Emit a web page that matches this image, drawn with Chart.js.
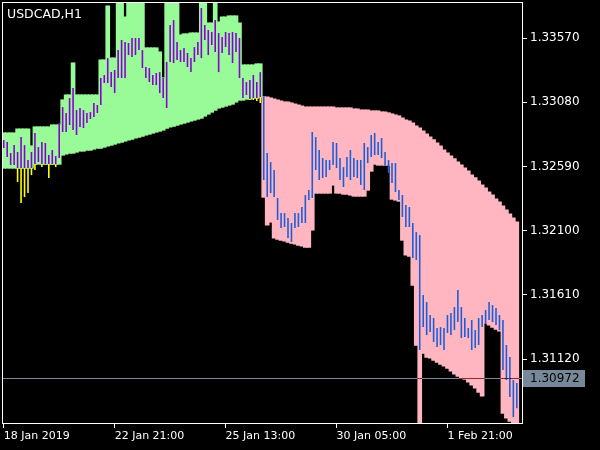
<!DOCTYPE html>
<html><head><meta charset="utf-8">
<script src="https://cdn.jsdelivr.net/npm/chart.js@4.4.1/dist/chart.umd.min.js"></script>
<style>html,body{margin:0;padding:0;background:#000;}canvas{display:block;}</style>
</head><body>
<canvas id="c" width="600" height="450"></canvas>
<script>
const symbolTitle = 'USDCAD,H1';
const timeTickIndex = [0, 32, 64, 96, 128];
const timeTickLabels = ['18 Jan 2019', '22 Jan 21:00', '25 Jan 13:00', '30 Jan 05:00', '1 Feb 21:00'];
const priceTicks = [1.31120, 1.31610, 1.32100, 1.32590, 1.33080, 1.33570];
const lastPrice = 1.30972;
const pinkStart = 75;

// green channel (bars 0..74): upper and lower edge
const greenTop = [
1.32845,1.32845,1.32845,1.32845,1.32875,1.32875,1.32875,1.32875,1.32746,1.32891,
1.32891,1.32891,1.32891,1.32891,1.32906,1.32906,1.32906,1.33097,1.33135,1.33135,
1.33379,1.33135,1.33135,1.33135,1.33135,1.33135,1.33135,1.33135,1.33402,1.33402,
1.33814,1.33417,1.33417,1.33900,1.33900,1.33730,1.33900,1.33900,1.33900,1.33900,
1.33900,1.33494,1.33494,1.33494,1.33494,1.33463,1.33265,1.33900,1.33900,1.33900,
1.33900,1.33593,1.33601,1.33601,1.33608,1.33608,1.33608,1.33900,1.33900,1.33684,
1.33684,1.33900,1.33692,1.33730,1.33730,1.33738,1.33738,1.33738,1.33684,1.33364,
1.33364,1.33364,1.33364,1.33372,1.33372];
const greenBot = [
1.32578,1.32578,1.32578,1.32578,1.32578,1.32578,1.32578,1.32578,1.32578,1.32608,
1.32608,1.32608,1.32608,1.32608,1.32608,1.32608,1.32608,1.32677,1.32685,1.32692,
1.32692,1.32700,1.32708,1.32708,1.32715,1.32715,1.32723,1.32730,1.32730,1.32738,
1.32746,1.32753,1.32761,1.32769,1.32776,1.32784,1.32792,1.32799,1.32807,1.32814,
1.32822,1.32830,1.32837,1.32845,1.32853,1.32860,1.32868,1.32883,1.32891,1.32898,
1.32906,1.32914,1.32921,1.32929,1.32937,1.32944,1.32952,1.32959,1.32975,1.32990,
1.33005,1.33020,1.33036,1.33043,1.33051,1.33059,1.33066,1.33082,1.33097,1.33097,
1.33104,1.33104,1.33112,1.33112,1.33120];
// price bars in green zone
const greenHigh = [
1.32792,1.32776,1.32692,1.32753,1.32700,1.32814,1.32753,1.32639,1.32700,1.32845,
1.32738,1.32776,1.32769,1.32677,1.32715,1.32669,1.32921,1.33043,1.32998,1.33112,
1.33188,1.33020,1.33036,1.33020,1.32998,1.33005,1.33074,1.33059,1.33265,1.33288,
1.33417,1.33310,1.33326,1.33478,1.33555,1.33539,1.33532,1.33570,1.33570,1.33570,
1.33478,1.33349,1.33341,1.33288,1.33303,1.33310,1.33265,1.33387,1.33669,1.33707,
1.33539,1.33478,1.33494,1.33456,1.33417,1.33501,1.33539,1.33799,1.33669,1.33631,
1.33616,1.33707,1.33608,1.33578,1.33616,1.33608,1.33616,1.33608,1.33570,1.33265,
1.33234,1.33249,1.33288,1.33234,1.33310];
const greenLow = [
1.32730,1.32662,1.32601,1.32601,1.32471,1.32311,1.32356,1.32387,1.32524,1.32563,
1.32624,1.32585,1.32601,1.32502,1.32601,1.32585,1.32654,1.32853,1.32853,1.32906,
1.32868,1.32830,1.32891,1.32883,1.32921,1.32952,1.32967,1.32998,1.33059,1.33227,
1.33227,1.33196,1.33150,1.33265,1.33265,1.33265,1.33440,1.33425,1.33440,1.33478,
1.33341,1.33265,1.33234,1.33211,1.33211,1.33150,1.33112,1.33036,1.33387,1.33379,
1.33402,1.33387,1.33387,1.33349,1.33310,1.33387,1.33440,1.33417,1.33555,1.33440,
1.33517,1.33463,1.33310,1.33456,1.33501,1.33440,1.33379,1.33463,1.33265,1.33112,
1.33135,1.33097,1.33097,1.33089,1.33074];

// pink channel (bars 75..148)
const pinkTop = [
1.33120,1.33120,1.33112,1.33104,1.33097,1.33089,1.33082,1.33082,1.33074,1.33066,
1.33059,1.33051,1.33043,1.33043,1.33043,1.33043,1.33043,1.33043,1.33043,1.33043,
1.33043,1.33036,1.33036,1.33036,1.33036,1.33036,1.33028,1.33028,1.33020,1.33020,
1.33020,1.33013,1.33013,1.33013,1.33005,1.33005,1.32998,1.32990,1.32982,1.32975,
1.32959,1.32944,1.32937,1.32921,1.32898,1.32883,1.32860,1.32837,1.32814,1.32792,
1.32769,1.32746,1.32715,1.32692,1.32669,1.32647,1.32624,1.32601,1.32578,1.32555,
1.32524,1.32502,1.32479,1.32448,1.32425,1.32395,1.32372,1.32341,1.32318,1.32288,
1.32257,1.32227,1.32196,1.32166];
const pinkBot = [
1.32356,1.32143,1.32166,1.32044,1.32036,1.32028,1.32021,1.32013,1.32005,1.31998,
1.31990,1.31983,1.31975,1.31975,1.32105,1.32387,1.32387,1.32387,1.32387,1.32387,
1.32448,1.32387,1.32387,1.32379,1.32379,1.32372,1.32364,1.32364,1.32364,1.32364,
1.32410,1.32555,1.32608,1.32601,1.32601,1.32601,1.32601,1.32341,1.32334,1.32326,
1.32028,1.31914,1.31906,1.31685,1.31227,1.30560,1.31166,1.31135,1.31128,1.31112,
1.31097,1.31082,1.31067,1.31051,1.31029,1.31006,1.30990,1.30975,1.30967,1.30945,
1.30922,1.30899,1.30868,1.30838,1.31395,1.31380,1.31364,1.31349,1.31334,1.30708,
1.30670,1.30647,1.30632,1.30624];
const pinkHigh = [
1.33120,1.32692,1.32624,1.32563,1.32349,1.32234,1.32234,1.32196,1.32158,1.32234,
1.32234,1.32280,1.32372,1.32410,1.32853,1.32814,1.32715,1.32654,1.32639,1.32639,
1.32776,1.32769,1.32654,1.32585,1.32662,1.32715,1.32654,1.32639,1.32639,1.32769,
1.32738,1.32830,1.32845,1.32776,1.32807,1.32700,1.32639,1.32616,1.32616,1.32410,
1.32372,1.32295,1.32280,1.32158,1.32089,1.32066,1.31609,1.31555,1.31456,1.31433,
1.31357,1.31364,1.31357,1.31456,1.31471,1.31517,1.31647,1.31517,1.31433,1.31357,
1.31418,1.31341,1.31433,1.31456,1.31494,1.31555,1.31532,1.31509,1.31456,1.31418,
1.31227,1.31135,1.30960,1.30937];
const pinkLow = [
1.32486,1.32356,1.32387,1.32356,1.32181,1.32120,1.32128,1.32044,1.32013,1.32120,
1.32128,1.32158,1.32158,1.32334,1.32349,1.32563,1.32486,1.32502,1.32509,1.32563,
1.32601,1.32578,1.32486,1.32433,1.32509,1.32486,1.32509,1.32502,1.32448,1.32410,
1.32616,1.32662,1.32677,1.32677,1.32654,1.32601,1.32540,1.32463,1.32395,1.32334,
1.32204,1.32128,1.32128,1.31891,1.31876,1.31189,1.31364,1.31303,1.31326,1.31250,
1.31212,1.31227,1.31189,1.31319,1.31303,1.31341,1.31402,1.31280,1.31288,1.31280,
1.31189,1.31204,1.31227,1.31364,1.31395,1.31418,1.31402,1.31380,1.31341,1.31036,
1.30960,1.30830,1.30677,1.30745];

// build library data from the arrays
const greenBand = greenTop.map((t, i) => ({x: i, y: [greenBot[i], t]}));
const pinkBand = pinkTop.map((t, k) => ({x: pinkStart + k, y: [pinkBot[k], t]}));
const purpleBars = [], yellowBars = [];
greenHigh.forEach((h, i) => {
  const l = greenLow[i], b = greenBot[i];
  if (h > b) purpleBars.push({x: i, y: [Math.max(l, b), h]});
  if (l < b) yellowBars.push({x: i, y: [l, Math.min(h, b)]});
});
const blueBars = pinkHigh.map((h, k) => ({x: pinkStart + k, y: [pinkLow[k], h]}));

const FONT = 'DejaVu Sans';
const common = {grouped: false, clip: 0, borderWidth: 0};
const priceBar = Object.assign({barThickness: 1.6, inflateAmount: 0, order: 1}, common);
const bandBar = Object.assign({barPercentage: 1, categoryPercentage: 1, inflateAmount: 0.6, order: 2}, common);

const mtPlugin = {
  id: 'mt',
  afterDatasetsDraw(chart) {
    const {ctx, chartArea: a, scales: {y}} = chart;
    ctx.save();
    const py = Math.round(y.getPixelForValue(lastPrice)) + 0.5;
    ctx.globalCompositeOperation = 'difference';
    ctx.strokeStyle = '#778899';
    ctx.lineWidth = 1;
    ctx.beginPath(); ctx.moveTo(a.left, py); ctx.lineTo(a.right, py); ctx.stroke();
    ctx.globalCompositeOperation = 'source-over';
    ctx.strokeStyle = '#ffffff';
    ctx.strokeRect(a.left + 0.5, a.top + 0.5, a.right - a.left, a.bottom - a.top);
    ctx.fillStyle = '#ffffff';
    ctx.font = '12.5px "' + FONT + '"';
    ctx.textBaseline = 'alphabetic';
    ctx.textAlign = 'left';
    ctx.fillText(symbolTitle, 7, 18);
    ctx.restore();
  },
  afterDraw(chart) {
    const {ctx, chartArea: a, scales: {y}} = chart;
    const py = Math.round(y.getPixelForValue(lastPrice));
    ctx.save();
    ctx.fillStyle = '#778899';
    ctx.fillRect(a.right + 1, py - 8, 62, 17);
    ctx.fillStyle = '#000000';
    ctx.font = '12px "' + FONT + '"';
    ctx.textBaseline = 'middle';
    ctx.textAlign = 'left';
    ctx.fillText(lastPrice.toFixed(5), a.right + 8, py + 0.5);
    ctx.restore();
  }
};

new Chart(document.getElementById('c'), {
  type: 'bar',
  data: {
    datasets: [
      Object.assign({label: 'blue', data: blueBars, backgroundColor: '#1E5FD8'}, priceBar),
      Object.assign({label: 'purple', data: purpleBars, backgroundColor: '#8C00D4'}, priceBar),
      Object.assign({label: 'yellow', data: yellowBars, backgroundColor: '#FFFF00'}, priceBar),
      Object.assign({label: 'green', data: greenBand, backgroundColor: '#98FB98'}, bandBar),
      Object.assign({label: 'pink', data: pinkBand, backgroundColor: '#FFB6C1'}, bandBar)
    ]
  },
  options: {
    responsive: false,
    animation: false,
    devicePixelRatio: 1,
    layout: {padding: {left: 2, top: 2, right: 0, bottom: 0}},
    plugins: {legend: {display: false}, tooltip: {enabled: false}, title: {display: false}},
    scales: {
      x: {
        type: 'linear', min: -0.5, max: 149.5, offset: false,
        afterBuildTicks: s => { s.ticks = timeTickIndex.map(v => ({value: v})); },
        afterFit: s => { s.height = 27; s.paddingLeft = 0; s.paddingRight = 0; },
        ticks: {
          color: '#ffffff', font: {family: FONT, size: 11}, align: 'start', padding: 2,
          maxRotation: 0, autoSkip: false,
          callback: v => { const k = timeTickIndex.indexOf(v); return k >= 0 ? timeTickLabels[k] : ''; }
        },
        grid: {drawOnChartArea: false, drawTicks: true, tickLength: 5, color: '#ffffff', offset: false},
        border: {display: false}
      },
      y: {
        type: 'linear', position: 'right', min: 1.30632, max: 1.33845,
        afterBuildTicks: s => { s.ticks = priceTicks.map(v => ({value: v})); },
        afterFit: s => { s.width = 78; s.paddingTop = 0; s.paddingBottom = 0; },
        ticks: {
          color: '#ffffff', font: {family: FONT, size: 12}, padding: 3, autoSkip: false,
          callback: v => Number(v).toFixed(5)
        },
        grid: {drawOnChartArea: false, drawTicks: true, tickLength: 5, color: '#ffffff'},
        border: {display: false}
      }
    }
  },
  plugins: [mtPlugin]
});
</script>
</body></html>
